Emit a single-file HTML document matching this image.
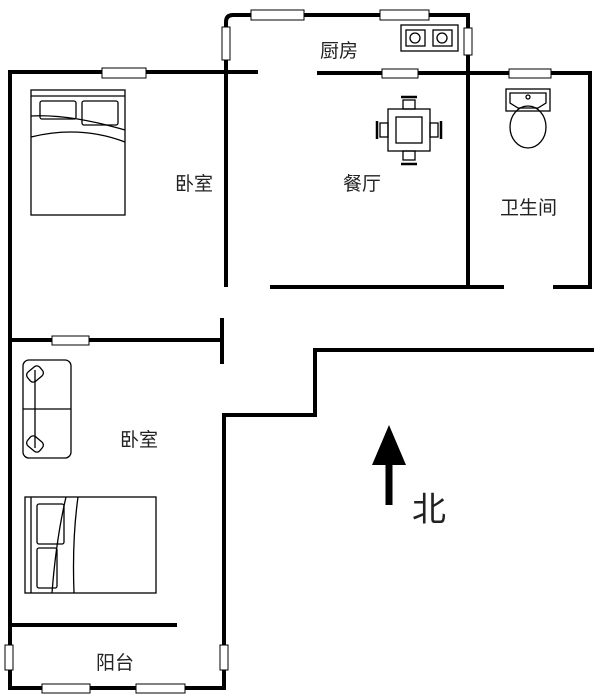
<!DOCTYPE html>
<html><head><meta charset="utf-8"><style>
body{margin:0;background:#fff}
svg{display:block}
text{font-family:"Liberation Sans","Noto Sans CJK SC",sans-serif;fill:#222}
</style></head><body>
<svg width="600" height="698" viewBox="0 0 600 698">
<g stroke="#000" stroke-width="4" fill="none" stroke-linecap="square">
<path d="M10,72H256"/>
<path d="M10,72V688H224V415H315V350H592"/>
<path d="M226,72V285"/>
<path d="M226,72V22Q226,15 233,15H468V287"/>
<path d="M319,73H590V287"/>
<path d="M272,287H502"/>
<path d="M555,287H590"/>
<path d="M10,340H222"/>
<path d="M222,320V362"/>
<path d="M10,625H175"/>
</g>
<g fill="#fff" stroke="#000" stroke-width="1">
<rect x="102" y="68" width="44" height="10"/>
<rect x="251" y="10" width="53" height="10"/>
<rect x="380" y="10" width="49" height="10"/>
<rect x="222" y="27" width="8" height="33"/>
<rect x="464" y="28" width="8" height="27"/>
<rect x="382" y="69" width="36" height="9"/>
<rect x="509" y="69" width="42" height="9"/>
<rect x="52" y="336" width="37" height="9"/>
<rect x="42" y="684" width="48" height="9"/>
<rect x="136" y="684" width="49" height="9"/>
<rect x="5" y="645" width="8" height="25"/>
<rect x="220" y="645" width="8" height="25"/>
</g>
<g fill="none" stroke="#000" stroke-width="1.3">
<!-- bed1 -->
<rect x="31" y="90" width="94" height="125"/>
<path d="M31,96H125"/>
<rect x="40" y="101" width="36" height="18" rx="2"/>
<rect x="82" y="101" width="36" height="24" rx="2"/>
<path d="M31,116Q70,114 125,130"/>
<path d="M31,137Q80,125 125,142"/>
<!-- stove -->
<rect x="401" y="25" width="57" height="26"/>
<rect x="406" y="30" width="19" height="16"/><circle cx="415" cy="38" r="5"/>
<rect x="433" y="30" width="19" height="16"/><circle cx="442" cy="38" r="5"/>
<!-- table -->
<rect x="388" y="109" width="42" height="42"/>
<rect x="396" y="117" width="26" height="26"/>
<rect x="403" y="100" width="12" height="9"/><rect x="403" y="151" width="12" height="9"/>
<rect x="380" y="123" width="8" height="14"/><rect x="430" y="123" width="8" height="14"/>
<path d="M401,97H417M401,164H417M377,121V139M441,121V139" stroke-width="2.5"/>
<!-- toilet -->
<rect x="506" y="89" width="44" height="22"/>
<path d="M510,93H546V103L538,108H518L510,103Z"/>
<ellipse cx="528" cy="127" rx="18" ry="21"/>
<circle cx="528" cy="97" r="2"/>
<!-- sofa -->
<rect x="23" y="360" width="48" height="98" rx="6"/>
<path d="M23,409H71M35,370V448"/>
<rect x="27" y="368" width="16" height="12" rx="4" transform="rotate(-40 35 374)"/>
<rect x="27" y="438" width="16" height="12" rx="4" transform="rotate(40 35 444)"/>
<!-- bed2 -->
<rect x="25" y="497" width="131" height="96"/>
<path d="M31,497V593"/>
<rect x="37" y="504" width="27" height="40" rx="2"/>
<rect x="37" y="548" width="20" height="40" rx="2"/>
<path d="M66,497Q56,540 52,593M78,497Q72,540 74,593"/>
</g>
<!-- arrow -->
<path d="M389,505V460" stroke="#000" stroke-width="7"/>
<polygon points="389,425 372,465 406,465" fill="#000"/>
<text x="175" y="190" font-size="19">卧室</text>
<text x="320" y="57" font-size="19">厨房</text>
<text x="343" y="190" font-size="19">餐厅</text>
<text x="500" y="214" font-size="19">卫生间</text>
<text x="120" y="446" font-size="19">卧室</text>
<text x="96" y="669" font-size="19">阳台</text>
<text x="412" y="521" font-size="34">北</text>
</svg>
</body></html>
